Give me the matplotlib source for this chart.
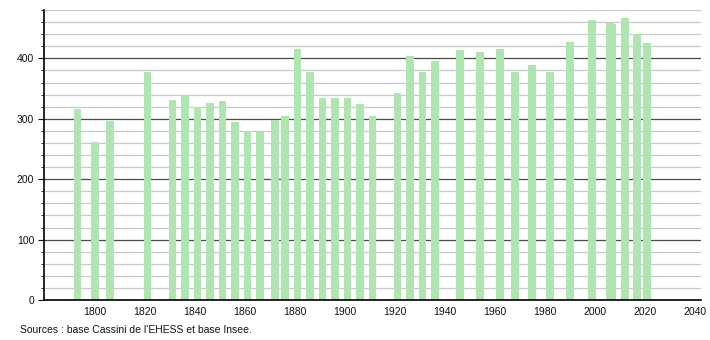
import numpy as np
import matplotlib.pyplot as plt
from matplotlib.ticker import MultipleLocator

plt.rcParams['font.family'] = ['Liberation Sans', 'DejaVu Sans']

years = [1793, 1800, 1806, 1821, 1831, 1836, 1841, 1846, 1851, 1856,
         1861, 1866, 1872, 1876, 1881, 1886, 1891, 1896, 1901, 1906,
         1911, 1921, 1926, 1931, 1936, 1946, 1954, 1962, 1968, 1975,
         1982, 1990, 1999, 2006, 2007, 2012, 2017, 2021]
population = [316, 261, 296, 377, 331, 340, 320, 326, 329, 294,
              280, 278, 298, 304, 416, 377, 334, 334, 334, 324,
              304, 343, 404, 377, 396, 414, 411, 416, 377, 389,
              377, 427, 464, 459, 457, 467, 441, 426]
xtick_years = list(range(1800, 2041, 20))
source = "Sources : base Cassini de l'EHESS et base Insee."

fig = plt.figure(figsize=(7.1, 3.4), dpi=100)
ax = fig.add_axes([0.062, 0.1176, 0.925, 0.853])

ax.bar(years, population, width=3.1, color='#b0e4b0', zorder=3)

ax.set_xlim(1779.6, 2042.4)
ax.set_ylim(0, 480)
ax.set_xticks(xtick_years)
ax.yaxis.set_major_locator(MultipleLocator(100))
ax.yaxis.set_minor_locator(MultipleLocator(20))
ax.grid(axis='y', which='major', color='#4a4a4a', linewidth=0.9, zorder=1)
ax.grid(axis='y', which='minor', color='#c8c8c8', linewidth=0.9, zorder=1)

for side in ['top', 'right']:
    ax.spines[side].set_visible(False)
ax.spines['left'].set_linewidth(1.2)
ax.spines['bottom'].set_linewidth(1.2)
ax.spines['left'].set_zorder(4)
ax.spines['bottom'].set_zorder(4)

ax.tick_params(axis='x', length=0, labelsize=7.5, pad=5, colors='#111111')
ax.tick_params(axis='y', which='major', length=4, labelsize=7.5, pad=3, colors='#111111')
ax.tick_params(axis='y', which='minor', length=2)

fig.text(0.028, 0.02, source, fontsize=7.5, color='#111111')

fig.savefig('out.png', dpi=100)
